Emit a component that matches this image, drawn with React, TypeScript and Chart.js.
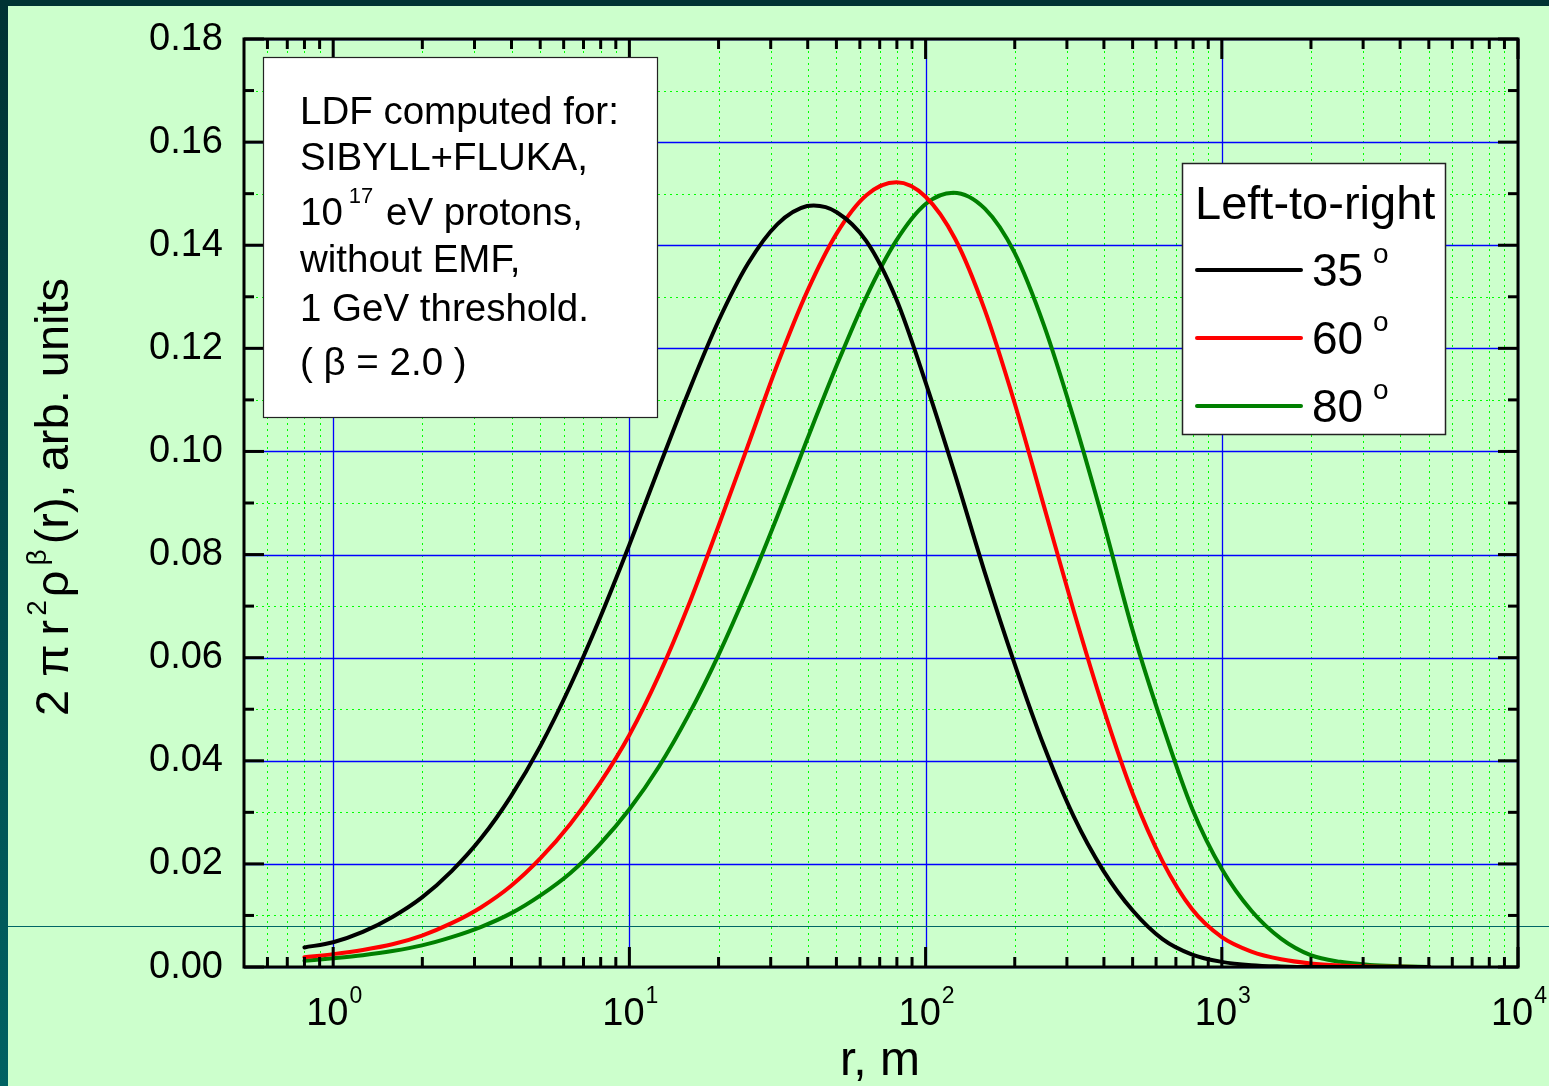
import React, { useEffect, useRef } from "react";
import { Chart, registerables } from "chart.js";

Chart.register(...registerables);

const CANVAS_W = 1549;
const CANVAS_H = 1086;
const FONT = '"Liberation Sans", Arial, Helvetica, sans-serif';

// ---------- data ----------
const r35 = [0.8, 1, 1.259, 1.585, 1.995, 2.512, 3.162, 3.981, 5.012, 6.31, 7.943, 10, 12.59, 15.85, 19.95, 25.12, 31.62, 39.81, 41.9, 50.12, 63.1, 79.43, 100, 125.9, 158.5, 199.5, 251.2, 316.2, 398.1, 501.2, 631, 794.3, 1000, 1259, 1585, 1995, 2512, 3162, 3981, 5012];
const v35 = [0.0038, 0.0048, 0.0068, 0.0097, 0.0135, 0.0186, 0.0250, 0.0331, 0.0429, 0.0545, 0.0676, 0.0819, 0.0969, 0.1116, 0.1252, 0.1364, 0.1441, 0.1476, 0.1477, 0.1464, 0.1408, 0.1297, 0.1134, 0.0954, 0.0765, 0.0589, 0.0428, 0.0292, 0.0187, 0.0109, 0.0054, 0.0024, 0.0010, 0.00035, 0.0001, 0, 0, 0, 0, 0];

const r60 = [0.8, 1, 1.259, 1.585, 1.995, 2.512, 3.162, 3.981, 5.012, 6.31, 7.943, 10, 12.59, 15.85, 19.95, 25.12, 31.62, 39.81, 50.12, 63.1, 79.8, 100, 125.9, 158.5, 199.5, 251.2, 316.2, 398.1, 501.2, 631, 794.3, 1000, 1259, 1585, 1995, 2512, 3162, 3981, 5012];
const v60 = [0.0019, 0.0025, 0.0033, 0.0044, 0.0061, 0.0085, 0.0116, 0.0157, 0.0211, 0.0277, 0.0356, 0.0450, 0.0566, 0.0702, 0.0854, 0.1011, 0.1169, 0.1310, 0.1423, 0.1497, 0.1522, 0.1494, 0.1412, 0.1274, 0.1095, 0.0893, 0.0691, 0.0502, 0.0335, 0.0205, 0.0112, 0.0058, 0.0030, 0.0015, 0.0007, 0.0003, 0.0001, 0.00004, 0];

const r80 = [0.8, 1, 1.259, 1.585, 1.995, 2.512, 3.162, 3.981, 5.012, 6.31, 7.943, 10, 12.59, 15.85, 19.95, 25.12, 31.62, 39.81, 50.12, 63.1, 79.43, 100, 124, 158.5, 199.5, 251.2, 316.2, 398.1, 501.2, 631, 794.3, 1000, 1259, 1585, 1995, 2512, 3162, 3981, 5012];
const v80 = [0.0012, 0.0017, 0.0023, 0.0031, 0.0042, 0.0058, 0.0078, 0.0104, 0.0139, 0.0182, 0.0238, 0.0306, 0.0389, 0.0489, 0.0604, 0.0734, 0.0875, 0.1023, 0.1167, 0.1300, 0.1408, 0.1480, 0.1502, 0.1471, 0.1386, 0.1244, 0.1064, 0.0864, 0.0651, 0.0469, 0.0307, 0.0190, 0.0109, 0.0055, 0.0023, 0.0010, 0.0004, 0.00015, 0];

const seriesAngles = ["35", "60", "80"];
const seriesColors = ["#000000", "#ff0000", "#008000"];

const xMin = 0.5;
const xMax = 10000;
const yMin = 0;
const yMax = 0.18;

const yMajorTicks = [0, 0.02, 0.04, 0.06, 0.08, 0.1, 0.12, 0.14, 0.16, 0.18];
const yTickLabels = ["0.00", "0.02", "0.04", "0.06", "0.08", "0.10", "0.12", "0.14", "0.16", "0.18"];
const yMinorTicks = [0.01, 0.03, 0.05, 0.07, 0.09, 0.11, 0.13, 0.15, 0.17];
const xMajorTicks = [1, 10, 100, 1000, 10000];
const xMajorExponents = ["0", "1", "2", "3", "4"];
const xMinorTicks = [0.6, 0.7, 0.8, 0.9, 2, 3, 4, 5, 6, 7, 8, 9, 20, 30, 40, 50, 60, 70, 80, 90, 200, 300, 400, 500, 600, 700, 800, 900, 2000, 3000, 4000, 5000, 6000, 7000, 8000, 9000];

const xTitle = "r, m";
type Seg = { t: string; sup?: boolean; gap?: number };
const yTitle: Seg[] = [
  { t: "2" },
  { t: "\u03c0", gap: 13 },
  { t: "r", gap: 9 },
  { t: "2", sup: true, gap: 4 },
  { t: "\u03c1", gap: 3 },
  { t: "\u03b2", sup: true, gap: 5 },
  { t: "(r), arb. units", gap: 5 },
];
const infoLines: Seg[][] = [
  [{ t: "LDF computed for:" }],
  [{ t: "SIBYLL+FLUKA," }],
  [{ t: "10" }, { t: "17", sup: true, gap: 6 }, { t: " eV protons,", gap: 2 }],
  [{ t: "without EMF," }],
  [{ t: "1 GeV threshold." }],
  [{ t: "( \u03b2 = 2.0 )" }],
];
const infoBaselines = [124, 170, 225, 272, 321, 375];
const legendTitle = "Left-to-right";

// ---------- helpers ----------
function drawRich(
  ctx: CanvasRenderingContext2D,
  segs: Seg[],
  x: number,
  y: number,
  size: number,
  supSize: number,
  rise: number
) {
  let cx = x;
  for (const s of segs) {
    cx += s.gap || 0;
    ctx.font = `${s.sup ? supSize : size}px ${FONT}`;
    ctx.fillText(s.t, cx, s.sup ? y - rise : y);
    cx += ctx.measureText(s.t).width;
  }
  return cx - x;
}
function measureRich(ctx: CanvasRenderingContext2D, segs: Seg[], size: number, supSize: number) {
  let w = 0;
  for (const s of segs) {
    w += s.gap || 0;
    ctx.font = `${s.sup ? supSize : size}px ${FONT}`;
    w += ctx.measureText(s.t).width;
  }
  return w;
}

const decor = {
  id: "decor",
  beforeDraw(chart: any) {
    const ctx: CanvasRenderingContext2D = chart.ctx;
    const xs = chart.scales.x;
    const ys = chart.scales.y;
    const { left, right, top, bottom } = chart.chartArea;
    ctx.save();
    ctx.fillStyle = "#ccffcc";
    ctx.fillRect(0, 0, CANVAS_W, CANVAS_H);
    ctx.fillStyle = "#003333";
    ctx.fillRect(0, 0, CANVAS_W, 6);
    const g = ctx.createLinearGradient(0, 0, 0, CANVAS_H);
    g.addColorStop(0, "#003333");
    g.addColorStop(1, "#006262");
    ctx.fillStyle = g;
    ctx.fillRect(0, 0, 8, CANVAS_H);

    // minor grid (green dotted)
    ctx.strokeStyle = "#00ff00";
    ctx.lineWidth = 1;
    ctx.setLineDash([2, 4]);
    for (const v of xMinorTicks) {
      const px = Math.round(xs.getPixelForValue(v)) + 0.5;
      ctx.beginPath();
      ctx.moveTo(px, top);
      ctx.lineTo(px, bottom);
      ctx.stroke();
    }
    for (const v of yMinorTicks) {
      const py = Math.round(ys.getPixelForValue(v)) + 0.5;
      ctx.beginPath();
      ctx.moveTo(left, py);
      ctx.lineTo(right, py);
      ctx.stroke();
    }
    ctx.setLineDash([]);
    // major grid (blue)
    ctx.strokeStyle = "#0000ff";
    ctx.lineWidth = 1.3;
    for (const v of xMajorTicks) {
      const px = Math.round(xs.getPixelForValue(v)) + 0.5;
      ctx.beginPath();
      ctx.moveTo(px, top);
      ctx.lineTo(px, bottom);
      ctx.stroke();
    }
    for (const v of yMajorTicks) {
      const py = Math.round(ys.getPixelForValue(v)) + 0.5;
      ctx.beginPath();
      ctx.moveTo(left, py);
      ctx.lineTo(right, py);
      ctx.stroke();
    }
    // thin slide line
    ctx.strokeStyle = "#006666";
    ctx.lineWidth = 1;
    ctx.beginPath();
    ctx.moveTo(8, 926.5);
    ctx.lineTo(CANVAS_W, 926.5);
    ctx.stroke();
    ctx.restore();
  },
  afterDatasetsDraw(chart: any) {
    const ctx: CanvasRenderingContext2D = chart.ctx;
    const xs = chart.scales.x;
    const ys = chart.scales.y;
    const { left, right, top, bottom } = chart.chartArea;
    ctx.save();
    ctx.strokeStyle = "#000";
    ctx.lineWidth = 3;
    ctx.lineCap = "butt";
    const seg = (x1: number, y1: number, x2: number, y2: number) => {
      ctx.beginPath();
      ctx.moveTo(x1, y1);
      ctx.lineTo(x2, y2);
      ctx.stroke();
    };
    for (const v of xMajorTicks) {
      const px = xs.getPixelForValue(v);
      seg(px, bottom, px, bottom - 20);
      seg(px, top, px, top + 20);
    }
    for (const v of xMinorTicks) {
      const px = xs.getPixelForValue(v);
      seg(px, bottom, px, bottom - 10);
      seg(px, top, px, top + 10);
    }
    for (const v of yMajorTicks) {
      const py = ys.getPixelForValue(v);
      seg(left, py, left + 20, py);
      seg(right, py, right - 20, py);
    }
    for (const v of yMinorTicks) {
      const py = ys.getPixelForValue(v);
      seg(left, py, left + 10, py);
      seg(right, py, right - 10, py);
    }
    ctx.strokeRect(left, top, right - left, bottom - top);

    // info box
    ctx.fillStyle = "#ffffff";
    ctx.fillRect(263, 57, 394, 360);
    ctx.lineWidth = 1.2;
    ctx.strokeStyle = "#222";
    ctx.strokeRect(263.5, 57.5, 394, 360);
    ctx.fillStyle = "#000";
    ctx.textAlign = "left";
    ctx.textBaseline = "alphabetic";
    infoLines.forEach((line, i) => {
      drawRich(ctx, line, 300, infoBaselines[i], 38.5, 22, 22);
    });

    // legend box
    ctx.fillStyle = "#ffffff";
    ctx.fillRect(1182, 163, 263, 271);
    ctx.strokeStyle = "#222";
    ctx.lineWidth = 1.5;
    ctx.strokeRect(1182.5, 163.5, 263, 271);
    ctx.fillStyle = "#000";
    ctx.font = `47px ${FONT}`;
    ctx.fillText(legendTitle, 1195, 219);
    seriesAngles.forEach((a, i) => {
      const ly = 270 + i * 68;
      ctx.strokeStyle = seriesColors[i];
      ctx.lineWidth = 4;
      ctx.lineCap = "round";
      ctx.beginPath();
      ctx.moveTo(1197, ly);
      ctx.lineTo(1301, ly);
      ctx.stroke();
      ctx.fillStyle = "#000";
      ctx.font = `46px ${FONT}`;
      ctx.fillText(a, 1312, ly + 16);
      ctx.font = `28px ${FONT}`;
      ctx.fillText("o", 1373, ly - 7);
    });
    ctx.restore();
  },
  afterDraw(chart: any) {
    const ctx: CanvasRenderingContext2D = chart.ctx;
    const xs = chart.scales.x;
    const ys = chart.scales.y;
    ctx.save();
    ctx.fillStyle = "#000";
    ctx.textBaseline = "alphabetic";
    // y tick labels
    ctx.font = `38px ${FONT}`;
    ctx.textAlign = "right";
    yMajorTicks.forEach((v, i) => {
      const py = ys.getPixelForValue(v);
      ctx.fillText(yTickLabels[i], 223, py + 10.5);
    });
    // x tick labels
    ctx.textAlign = "left";
    xMajorTicks.forEach((v, i) => {
      const px = xs.getPixelForValue(v);
      const segs: Seg[] = [{ t: "10" }, { t: xMajorExponents[i], sup: true, gap: 1 }];
      const w = measureRich(ctx, segs, 38, 23);
      drawRich(ctx, segs, px - w / 2 + 1, 1025, 38, 23, 22);
    });
    // x title
    ctx.font = `48px ${FONT}`;
    ctx.textAlign = "center";
    ctx.fillText(xTitle, 880, 1075);
    // y title
    ctx.textAlign = "left";
    ctx.translate(68, 716);
    ctx.rotate(-Math.PI / 2);
    drawRich(ctx, yTitle, 0, 0, 47, 28, 22);
    ctx.restore();
  },
};

const datasetsSrc = [
  { r: r35, v: v35 },
  { r: r60, v: v60 },
  { r: r80, v: v80 },
];

export default function App() {
  const ref = useRef<HTMLCanvasElement>(null);
  useEffect(() => {
    const canvas = ref.current;
    if (!canvas) return;
    const chart = new Chart(canvas, {
      type: "line",
      data: {
        datasets: datasetsSrc.map((d, i) => ({
          label: seriesAngles[i],
          data: d.r.map((x, k) => ({ x, y: d.v[k] })),
          borderColor: seriesColors[i],
          backgroundColor: seriesColors[i],
          borderWidth: 4,
          pointRadius: 0,
          fill: false,
          cubicInterpolationMode: "monotone",
          borderCapStyle: "round",
          borderJoinStyle: "round",
        })),
      },
      options: {
        responsive: false,
        animation: false,
        devicePixelRatio: 1,
        events: [],
        layout: { padding: { top: 39, right: 31, left: 0, bottom: 0 } },
        plugins: {
          legend: { display: false },
          tooltip: { enabled: false },
          title: { display: false },
        },
        scales: {
          x: {
            type: "logarithmic",
            min: xMin,
            max: xMax,
            grid: { display: false },
            border: { display: false },
            ticks: { display: false },
            afterFit: (s: any) => {
              s.height = 119;
            },
          },
          y: {
            type: "linear",
            min: yMin,
            max: yMax,
            grid: { display: false },
            border: { display: false },
            ticks: { display: false },
            afterFit: (s: any) => {
              s.width = 244;
            },
          },
        },
      } as any,
      plugins: [decor],
    });
    return () => chart.destroy();
  }, []);
  return (
    <div
      style={{
        position: "absolute",
        left: 0,
        top: 0,
        width: CANVAS_W,
        height: CANVAS_H,
        overflow: "hidden",
      }}
    >
      <canvas
        ref={ref}
        width={CANVAS_W}
        height={CANVAS_H}
        style={{ display: "block", width: CANVAS_W, height: CANVAS_H }}
      />
    </div>
  );
}
